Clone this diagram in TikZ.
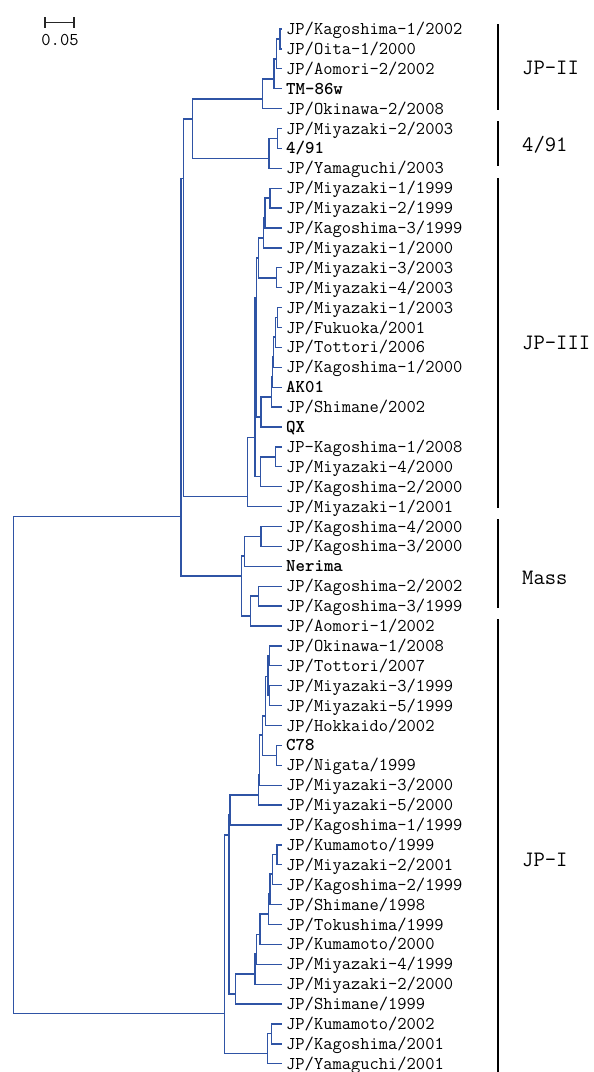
\documentclass[tikz,border=0pt]{standalone}
\definecolor{treeblue}{RGB}{47,84,165}
\tikzset{
  br/.style={draw=treeblue, line width=1.25pt},
  lab/.style={anchor=west, inner xsep=4pt, inner ysep=0pt, text height=11pt, text depth=0pt, font=\fontsize{18}{20}\selectfont\ttfamily},
  cbar/.style={draw=black, line width=2.6pt},
  clade/.style={anchor=west, inner sep=0pt, text height=13.4pt, text depth=0pt, font=\fontsize{22}{24}\selectfont\ttfamily},
  sbar/.style={draw=black!85, line width=1.5pt},
}
\begin{document}
\begin{tikzpicture}[x=1pt,y=-1pt]
\useasboundingbox (0,0) rectangle (594,1072);
% leaves
\foreach \t [count=\i] in {
JP/Kagoshima-1/2002, JP/Oita-1/2000, JP/Aomori-2/2002, {\bfseries TM-86w}, JP/Okinawa-2/2008,
JP/Miyazaki-2/2003, {\bfseries 4/91}, JP/Yamaguchi/2003,
JP/Miyazaki-1/1999, JP/Miyazaki-2/1999, JP/Kagoshima-3/1999, JP/Miyazaki-1/2000, JP/Miyazaki-3/2003,
JP/Miyazaki-4/2003, JP/Miyazaki-1/2003, JP/Fukuoka/2001, JP/Tottori/2006, JP/Kagoshima-1/2000,
{\bfseries AK01}, JP/Shimane/2002, {\bfseries QX}, JP-Kagoshima-1/2008, JP/Miyazaki-4/2000,
JP/Kagoshima-2/2000, JP/Miyazaki-1/2001,
JP/Kagoshima-4/2000, JP/Kagoshima-3/2000, {\bfseries Nerima}, JP/Kagoshima-2/2002, JP/Kagoshima-3/1999, JP/Aomori-1/2002,
JP/Okinawa-1/2008, JP/Tottori/2007, JP/Miyazaki-3/1999, JP/Miyazaki-5/1999, JP/Hokkaido/2002,
{\bfseries C78}, JP/Nigata/1999, JP/Miyazaki-3/2000, JP/Miyazaki-5/2000, JP/Kagoshima-1/1999,
JP/Kumamoto/1999, JP/Miyazaki-2/2001, JP/Kagoshima-2/1999, JP/Shimane/1998, JP/Tokushima/1999,
JP/Kumamoto/2000, JP/Miyazaki-4/1999, JP/Miyazaki-2/2000, JP/Shimane/1999,
JP/Kumamoto/2002, JP/Kagoshima/2001, JP/Yamaguchi/2001}
{ \pgfmathsetmacro\yy{29+(\i-1)*19.9}
  \node[lab] (t\i) at (282,\yy) {\t}; }
% internal nodes
\coordinate (a12) at (280,39);
\coordinate (a123) at (276.7,59);
\coordinate (a1234) at (274,79);
\coordinate (a5) at (262.5,99);
\coordinate (b67) at (277.7,138.5);
\coordinate (b678) at (269,158.3);
\coordinate (T) at (192.3,119);
\coordinate (c910) at (270,198);
\coordinate (c911) at (265,218);
\coordinate (c912) at (263.5,238);
\coordinate (c1314) at (276.3,278);
\coordinate (C1) at (258.3,258);
\coordinate (c1516) at (277.3,317.5);
\coordinate (c1517) at (275.7,337);
\coordinate (c1518) at (273.3,357);
\coordinate (V) at (272.3,377);
\coordinate (W) at (271.5,397);
\coordinate (Q) at (261,417);
\coordinate (P) at (256.7,297.7);
\coordinate (c2223) at (275.7,457);
\coordinate (S) at (260.7,476.7);
\coordinate (R) at (255,437.3);
\coordinate (U) at (247.3,496.3);
\coordinate (B) at (183.5,178.3);
\coordinate (m2627) at (261,536.5);
\coordinate (m28) at (244.3,556);
\coordinate (m2930) at (258.3,596);
\coordinate (m31) at (250.3,616);
\coordinate (M) at (241.7,576);
\coordinate (A) at (181,516.7);
\coordinate (d3233) at (269.3,655.5);
\coordinate (d3435) at (269.3,695.5);
\coordinate (X1) at (268,676.7);
\coordinate (X2) at (265.7,716);
\coordinate (d3738) at (276.7,755.3);
\coordinate (X3) at (262.7,735);
\coordinate (X4a) at (259.3,775);
\coordinate (X4b) at (258.5,795);
\coordinate (X5) at (230,815);
\coordinate (e4243) at (277,854.5);
\coordinate (Y7) at (272.7,874);
\coordinate (Y6) at (270,894);
\coordinate (Y5) at (268.3,914);
\coordinate (Y4) at (260,934.3);
\coordinate (Y3) at (256.7,954);
\coordinate (Y2) at (255,974);
\coordinate (Y) at (235.7,994);
\coordinate (K) at (229,835);
\coordinate (f5152) at (271.7,1033.5);
\coordinate (Z) at (267.3,1053.3);
\coordinate (J) at (224.3,1013.3);
\coordinate (root) at (13.3,765);
% branches
\foreach \p/\c in {
a12/t1.west, a12/t2.west, a123/a12, a123/t3.west, a1234/a123, a1234/t4.west, a5/a1234, a5/t5.west,
b67/t6.west, b67/t7.west, b678/b67, b678/t8.west, T/a5, T/b678,
c910/t9.west, c910/t10.west, c911/c910, c911/t11.west, c912/c911, c912/t12.west,
c1314/t13.west, c1314/t14.west, C1/c912, C1/c1314,
c1516/t15.west, c1516/t16.west, c1517/c1516, c1517/t17.west, c1518/c1517, c1518/t18.west,
V/c1518, V/t19.west, W/V, W/t20.west, Q/W, Q/t21.west, P/C1, P/Q,
c2223/t22.west, c2223/t23.west, S/c2223, S/t24.west, R/P, R/S, U/R, U/t25.west, B/T, B/U,
m2627/t26.west, m2627/t27.west, m28/m2627, m28/t28.west, m2930/t29.west, m2930/t30.west,
m31/m2930, m31/t31.west, M/m28, M/m31, A/B, A/M,
d3233/t32.west, d3233/t33.west, d3435/t34.west, d3435/t35.west, X1/d3233, X1/d3435,
X2/X1, X2/t36.west, d3738/t37.west, d3738/t38.west, X3/X2, X3/d3738,
X4a/X3, X4a/t39.west, X4b/X4a, X4b/t40.west, X5/X4b, X5/t41.west,
e4243/t42.west, e4243/t43.west, Y7/e4243, Y7/t44.west, Y6/Y7, Y6/t45.west,
Y5/Y6, Y5/t46.west, Y4/Y5, Y4/t47.west, Y3/Y4, Y3/t48.west, Y2/Y3, Y2/t49.west,
Y/Y2, Y/t50.west, K/X5, K/Y,
f5152/t51.west, f5152/t52.west, Z/f5152, Z/t53.west, J/K, J/Z,
root/A, root/J}
{ \draw[br] (\p) |- (\c); }
% clade bars and labels
\coordinate (g1a) at (498,24);   \coordinate (g1b) at (498,110);
\coordinate (g2a) at (498,121);  \coordinate (g2b) at (498,166);
\coordinate (g3a) at (498,178);  \coordinate (g3b) at (498,508);
\coordinate (g4a) at (498,519);  \coordinate (g4b) at (498,608);
\coordinate (g5a) at (498,619);  \coordinate (g5b) at (498,1072);
\draw[cbar] (g1a) -- (g1b);
\draw[cbar] (g2a) -- (g2b);
\draw[cbar] (g3a) -- (g3b);
\draw[cbar] (g4a) -- (g4b);
\draw[cbar] (g5a) -- (g5b);
\node[clade] (c1) at (522,68) {JP-II};
\node[clade] (c2) at (522,145) {4/91};
\node[clade] (c3) at (522,343) {JP-III};
\node[clade] (c4) at (522,578) {Mass};
\node[clade] (c5) at (522,860) {JP-I};
% scale bar
\coordinate (sbL) at (45,22.5);
\coordinate (sbR) at (74,22.5);
\draw[sbar] (sbL) -- (sbR);
\draw[sbar] ([yshift=5.5pt]sbL) -- ([yshift=-5.5pt]sbL);
\draw[sbar] ([yshift=5.5pt]sbR) -- ([yshift=-5.5pt]sbR);
\node[lab, anchor=center, inner xsep=0pt] (sbt) at (60,40) {0.05};
\end{tikzpicture}
\end{document}
